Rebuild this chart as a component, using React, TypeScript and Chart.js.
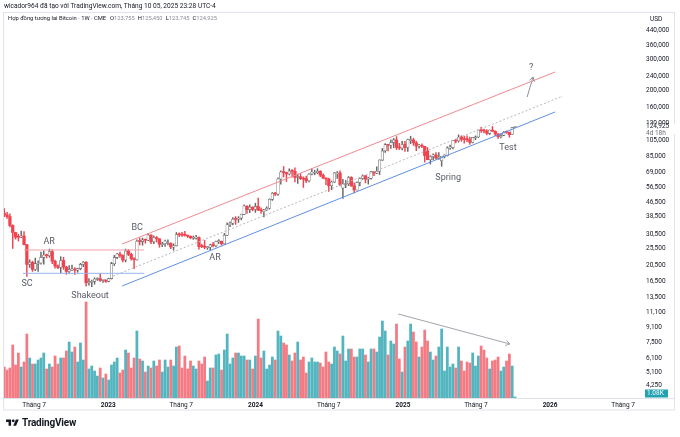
import { useEffect, useRef } from 'react';
import { Chart, registerables } from 'chart.js';

Chart.register(...registerables);

// ---------- data (weekly CME Bitcoin futures, first bar = week of 2022-04-18) ----------
const FIRST_WEEK = '2022-04-18';

const OPEN = [
  40400, 39500, 38600, 34400, 31400, 29900, 29500, 30000, 26800, 20700,
  21300, 19400, 20800, 21100, 22700, 23400, 23200, 24500, 21600, 20300,
  19900, 21800, 20000, 18900, 19300, 19500, 19200, 19600, 20700, 21300,
  16300, 16400, 16600, 17000, 17200, 16800, 16900, 16600, 17200, 20900,
  22700, 23700, 23300, 21900, 24700, 23600, 22300, 22000, 28200, 27900,
  28500, 28400, 30400, 27800, 29400, 28900, 26800, 27100, 27200, 27300,
  25900, 26400, 30800, 30600, 30500, 30300, 29900, 29100, 29200, 29400,
  26200, 26300, 25800, 25900, 26800, 26400, 27900, 28000, 27100, 30300,
  34700, 35400, 37500, 37300, 37900, 39800, 44300, 42300, 43700, 42400,
  44100, 42000, 41200, 42100, 43100, 48400, 52300, 51800, 63100, 69100,
  68600, 67400, 70100, 69700, 64300, 65000, 63400, 63500, 61700, 67200,
  68000, 68300, 69800, 66300, 63900, 63100, 57800, 60600, 67400, 68200,
  56000, 58700, 59200, 64300, 57600, 54700, 60300, 63500, 65800, 62900,
  63600, 69400, 68000, 69800, 80700, 91000, 98700, 97900, 101400, 105000,
  95100, 94400, 98900, 95100, 104000, 105000, 101100, 96900, 97900, 96600,
  91000, 81100, 84600, 86400, 82400, 80000, 85000, 85400, 94600, 95000,
  104200, 103500, 109100, 105800, 105500, 105300, 101600, 108000, 109000, 119400,
  118300, 117800, 114300, 119400, 117600, 113600, 109400, 111400, 116100, 115800,
  112600, 123755,
];
const HIGH = [
  42900, 40800, 40000, 34700, 31500, 30700, 32000, 31800, 26900, 22000,
  21600, 22500, 21700, 24300, 24700, 23700, 25300, 25100, 21900, 20600,
  22900, 22700, 20200, 20400, 20500, 19900, 19700, 21000, 21500, 21500,
  17200, 16900, 17400, 17400, 18400, 17000, 16950, 17300, 21300, 23300,
  23900, 24300, 23500, 25300, 25200, 24000, 22600, 28500, 29200, 29200,
  28800, 31100, 30500, 30100, 29800, 29000, 27600, 28400, 28500, 27400,
  27100, 31400, 31300, 31500, 31900, 30400, 30000, 30000, 30300, 29700,
  26900, 28300, 26100, 27000, 27600, 28100, 28600, 28100, 31000, 35600,
  36100, 38100, 38600, 38600, 39900, 45100, 44400, 45000, 43900, 46000,
  49100, 43300, 42400, 43900, 48700, 52900, 53000, 64100, 70200, 74200,
  68900, 72100, 71400, 72900, 67000, 67600, 64800, 65600, 67700, 72100,
  70800, 72100, 70300, 67400, 64100, 63900, 61400, 68600, 69400, 70100,
  62800, 61900, 65100, 65000, 59900, 60700, 64100, 66500, 66100, 64500,
  69600, 69700, 73900, 81100, 94000, 100100, 99100, 105000, 107000, 109600,
  100400, 102900, 102900, 106100, 110100, 107400, 102900, 99000, 99600, 96600,
  95100, 85400, 87600, 89100, 88900, 84000, 86600, 95900, 98000, 104500,
  105900, 112100, 110800, 110500, 110700, 109000, 108600, 110600, 119600, 123600,
  121100, 120300, 119600, 125100, 118000, 114100, 113600, 117100, 118100, 116500,
  123900, 125450,
];
const LOW = [
  38600, 37700, 33800, 25500, 28800, 28100, 29300, 26700, 17700, 19900,
  18900, 19100, 18900, 20800, 20800, 22500, 22700, 20900, 19700, 19600,
  18600, 19400, 18200, 18500, 19100, 18200, 18700, 19300, 20100, 15600,
  15800, 15500, 16000, 16800, 16600, 16400, 16400, 16500, 17100, 20400,
  22300, 22700, 21400, 21400, 23200, 21900, 19600, 21900, 26700, 26600,
  27300, 28200, 27100, 27100, 27700, 25900, 26100, 26200, 26700, 25400,
  24900, 26300, 29700, 29800, 29900, 29400, 28900, 28700, 28800, 25300,
  25800, 25400, 25200, 24900, 26000, 26000, 27200, 26600, 26900, 30100,
  33900, 34600, 34900, 35800, 37000, 39600, 40300, 40700, 41600, 40800,
  41700, 40300, 38500, 41800, 42600, 47700, 50700, 50900, 59000, 64800,
  61000, 66500, 64500, 60700, 59600, 62600, 56500, 60200, 60800, 66600,
  66600, 67500, 65000, 63400, 58500, 53700, 54800, 60300, 63500, 57600,
  49000, 56300, 57900, 57300, 52600, 54600, 57600, 62700, 59900, 59000,
  62900, 65800, 67500, 66800, 80300, 89300, 91000, 94000, 94900, 92500,
  92600, 92000, 90500, 90500, 100000, 97800, 91300, 94200, 94800, 78600,
  81500, 76600, 81200, 81600, 81300, 74500, 83100, 85100, 92800, 93400,
  101000, 102000, 103100, 100500, 102700, 99000, 100900, 105300, 108100, 115800,
  114900, 112100, 112600, 116900, 110800, 107100, 107600, 110800, 114400, 108700,
  112300, 123745,
];
const CLOSE = [
  39500, 38600, 34400, 31400, 29500, 29500, 30000, 26800, 20700, 21300,
  19400, 20900, 21100, 22700, 23400, 23200, 24500, 21600, 20300, 19900,
  21800, 20000, 18900, 19400, 19500, 19200, 19600, 20700, 21300, 16300,
  16600, 16600, 17100, 17200, 16800, 16900, 16600, 17200, 20900, 22700,
  23700, 23300, 21900, 24700, 23600, 22300, 22000, 28000, 27900, 28500,
  28400, 30400, 27800, 29400, 28900, 26900, 27100, 28100, 27300, 26000,
  26400, 30600, 30500, 30300, 30300, 29900, 29300, 29200, 29400, 26100,
  26100, 25900, 25900, 26700, 26400, 27900, 28000, 27100, 30300, 34700,
  35400, 37300, 37300, 37900, 39800, 44300, 42300, 43700, 42400, 44100,
  42000, 41700, 42100, 43100, 48400, 52300, 51800, 63100, 69100, 68600,
  67400, 70100, 69700, 64300, 65000, 63400, 63000, 61700, 67200, 69100,
  68300, 69800, 66300, 63900, 63100, 57800, 60600, 68300, 68200, 58600,
  59100, 59200, 64300, 57600, 54700, 60300, 63500, 65800, 62900, 63600,
  69400, 68000, 69800, 80700, 91000, 98700, 97900, 101400, 105000, 95100,
  94400, 98900, 95100, 105500, 105000, 101100, 96900, 97900, 96600, 85600,
  81100, 84600, 86400, 82700, 83700, 85000, 85400, 94600, 95000, 104200,
  103500, 109100, 105800, 105500, 105300, 101600, 108500, 109000, 119400, 118300,
  117800, 114300, 119400, 117600, 113600, 109400, 111400, 116100, 115800, 112400,
  123500, 124925,
];
// volume, thousands of contracts
const VOLUME = [
  31, 28, 30, 53, 33, 45, 31, 36, 64, 40,
  34, 34, 38, 40, 45, 29, 34, 31, 42, 34,
  40, 40, 47, 56, 46, 51, 36, 55, 38, 96,
  29, 32, 27, 22, 30, 20, 24, 18, 33, 36,
  40, 25, 28, 48, 45, 30, 40, 67, 39, 37,
  26, 32, 30, 37, 32, 38, 26, 38, 31, 38,
  32, 51, 52, 30, 42, 29, 37, 32, 29, 37,
  34, 41, 17, 30, 30, 43, 44, 28, 48, 64,
  34, 40, 45, 45, 42, 42, 38, 38, 29, 42,
  79, 40, 47, 29, 33, 41, 38, 67, 62, 55,
  53, 43, 37, 45, 56, 38, 41, 25, 36, 40,
  36, 36, 35, 31, 46, 36, 34, 51, 47, 44,
  62, 37, 49, 49, 41, 41, 49, 49, 43, 36,
  49, 49, 46, 61, 77, 67, 43, 57, 54, 74,
  39, 26, 51, 57, 74, 66, 56, 41, 51, 68,
  57, 46, 38, 42, 51, 69, 27, 51, 31, 34,
  30, 51, 37, 27, 36, 35, 45, 32, 42, 52,
  48, 40, 29, 37, 38, 41, 27, 31, 37, 44,
  32, 1.08,
];

const PRICE_TICKS = [
  440000, 360000, 300000, 240000, 200000, 160000, 130000, 105000, 85000, 69000,
  56500, 46500, 38500, 30500, 25500, 20500, 16500, 13500, 11100, 9100,
  7500, 6100, 5100, 4250,
];
const TIME_TICK_DATES = [
  '2022-07-01', '2023-01-01', '2023-07-01', '2024-01-01', '2024-07-01',
  '2025-01-01', '2025-07-01', '2026-01-01', '2026-07-01',
];
const TIME_TICK_LABELS = ['Tháng 7', '2023', 'Tháng 7', '2024', 'Tháng 7', '2025', 'Tháng 7', '2026', 'Tháng 7'];

// drawings on the chart, in data units: [week index, price] (volume arrow: [week index, volume K])
const AR_LEVEL = [[7.0, 24990], [49.6, 24990]];
const SC_LEVEL = [[6.6, 18440], [49.6, 18440]];
const CHANNEL_TOP = [[41.75, 27020], [195.2, 254500]];
const CHANNEL_BOTTOM = [[41.75, 15630], [195.2, 151100]];
const CHANNEL_MID = [[38.6, 17800], [198.0, 186100]];
const TARGET_ARROW = [[185.3, 183700], [187.4, 238500]];
const VOLUME_ARROW = [[139.6, 84], [179.2, 54]];

const LABEL_TEXTS = ['AR', 'SC', 'Shakeout', 'BC', 'AR', 'Spring', 'Test', '?'];
const LABEL_WEEKS = [15.9, 8.1, 30.4, 47.1, 74.7, 157.3, 178.5, 186.7];
const LABEL_PRICES = [27730, 16040, 13720, 33290, 22520, 63880, 94470, 268200];

const HEADER_1 = 'wicador964 đã tạo với TradingView.com, Tháng 10 05, 2025 23:28 UTC-4';
const SYMBOL = 'Hợp đồng tương lai Bitcoin · 1W · CME';
const TIME_LEFT = '4d 18h';

// axis ranges
const X_MIN = -0.45;
const X_MAX = 226.0;
const Y_MIN = 3628;
const Y_MAX = 469700;
const VOLUME_AXIS_MAX = 373;

// ---------- styles ----------
const FONT = 'Roboto, "Liberation Sans", Arial, sans-serif';
const RED = '#F0434F';
const UP_LINE = '#666666';
const VOL_RED = '#F47A83';
const VOL_TEAL = '#52B5BF';
const TEXT = '#131722';
const FRAME = '#E0E3EB';

const N = OPEN.length;
const IDX = Array.from({ length: N }, (_, i) => i);
const isUp = (i: number) => CLOSE[i] >= OPEN[i];
const weekOf = (d: string) => (Date.parse(d) - Date.parse(FIRST_WEEK)) / 604800000;
const TIME_TICK_POS = TIME_TICK_DATES.map(weekOf);
const fmt = (v: number) => Math.round(v).toLocaleString('en-US');

function lineDs(pts: number[][], color: string, axis: string, dash: number[] = []) {
  return {
    type: 'line' as const,
    data: pts.map(([x, y]) => ({ x, y })),
    yAxisID: axis,
    borderColor: color,
    borderWidth: 1,
    borderDash: dash,
    pointRadius: 0,
    pointHoverRadius: 0,
    fill: false,
    tension: 0,
    order: 0,
  };
}

function arrowHead(ctx: CanvasRenderingContext2D, x1: number, y1: number, x2: number, y2: number, len: number) {
  const a = Math.atan2(y2 - y1, x2 - x1);
  ctx.beginPath();
  ctx.moveTo(x2 - len * Math.cos(a - 0.55), y2 - len * Math.sin(a - 0.55));
  ctx.lineTo(x2, y2);
  ctx.lineTo(x2 - len * Math.cos(a + 0.55), y2 - len * Math.sin(a + 0.55));
  ctx.stroke();
}

const overlay = {
  id: 'overlay',
  afterDatasetsDraw(chart: any) {
    const { ctx, scales } = chart;
    const x = scales.x, y = scales.y, yv = scales.yv;
    ctx.save();
    ctx.lineWidth = 1;
    ctx.strokeStyle = '#8E9099';
    let p = TARGET_ARROW.map(([a, b]) => [x.getPixelForValue(a), y.getPixelForValue(b)]);
    arrowHead(ctx, p[0][0], p[0][1], p[1][0], p[1][1], 5);
    ctx.strokeStyle = '#A3A5AD';
    p = VOLUME_ARROW.map(([a, b]) => [x.getPixelForValue(a), yv.getPixelForValue(b)]);
    arrowHead(ctx, p[0][0], p[0][1], p[1][0], p[1][1], 5);
    ctx.font = `9px ${FONT}`;
    ctx.fillStyle = '#575B66';
    ctx.textAlign = 'center';
    ctx.textBaseline = 'middle';
    LABEL_TEXTS.forEach((t, i) => {
      ctx.fillText(t, x.getPixelForValue(LABEL_WEEKS[i]), y.getPixelForValue(LABEL_PRICES[i]));
    });
    ctx.restore();
  },
  afterDraw(chart: any) {
    const { ctx, chartArea, scales, width } = chart;
    const y = scales.y, yv = scales.yv;
    ctx.save();
    ctx.strokeStyle = FRAME;
    ctx.lineWidth = 1;
    const left = chartArea.left + 0.5;
    const right = width - 5.5;
    ctx.strokeRect(left, 12.5, right - left, chartArea.bottom + 12 - 12.5);
    ctx.beginPath();
    ctx.moveTo(left, chartArea.bottom + 0.5);
    ctx.lineTo(right, chartArea.bottom + 0.5);
    ctx.stroke();
    const lx = chartArea.right + 4;
    ctx.font = `6.5px ${FONT}`;
    ctx.textAlign = 'left';
    ctx.textBaseline = 'middle';
    ctx.fillStyle = TEXT;
    ctx.fillText('USD', lx + 4, 19);
    const last = CLOSE[N - 1];
    const py = y.getPixelForValue(last);
    ctx.fillStyle = '#ffffff';
    ctx.fillRect(chartArea.right + 1, py - 2.5, 32, 10);
    ctx.fillStyle = TEXT;
    ctx.fillText(fmt(last), lx, py);
    ctx.fillStyle = '#6A6D78';
    ctx.fillText(TIME_LEFT, lx, py + 6.5);
    const vol = VOLUME[N - 1];
    const vy = Math.min(yv.getPixelForValue(vol), chartArea.bottom - 4.5);
    ctx.fillStyle = '#22A3AF';
    ctx.fillRect(chartArea.right + 3, vy - 4, 23, 8);
    ctx.fillStyle = '#ffffff';
    ctx.fillText(vol.toFixed(2) + 'K', lx + 1, vy + 0.3);
    ctx.restore();
  },
};

export default function App() {
  const ref = useRef<HTMLCanvasElement | null>(null);
  useEffect(() => {
    const config: any = {
      type: 'bar',
      data: {
        datasets: [
          lineDs(AR_LEVEL, '#F3A2A9', 'y'),
          lineDs(SC_LEVEL, '#98B4EE', 'y'),
          lineDs(CHANNEL_TOP, '#F08992', 'y'),
          lineDs(CHANNEL_BOTTOM, '#5F8FE6', 'y'),
          lineDs(CHANNEL_MID, '#B5B7BD', 'y', [2, 2]),
          lineDs(TARGET_ARROW, '#8E9099', 'y'),
          lineDs(VOLUME_ARROW, '#A3A5AD', 'yv'),
          {
            type: 'bar',
            label: 'body',
            yAxisID: 'y',
            grouped: false,
            order: 1,
            data: IDX.map((i) => ({ x: i, y: [Math.min(OPEN[i], CLOSE[i]), Math.max(OPEN[i], CLOSE[i])] })),
            backgroundColor: IDX.map((i) => (isUp(i) ? '#ffffff' : RED)),
            borderColor: IDX.map((i) => (isUp(i) ? UP_LINE : RED)),
            borderWidth: IDX.map((i) => (isUp(i) ? 0.6 : 0)),
            borderSkipped: false,
            barThickness: 2.6,
            minBarLength: 1,
          },
          {
            type: 'bar',
            label: 'wick',
            yAxisID: 'y',
            grouped: false,
            order: 2,
            data: IDX.map((i) => ({ x: i, y: [LOW[i], HIGH[i]] })),
            backgroundColor: IDX.map((i) => (isUp(i) ? UP_LINE : RED)),
            borderWidth: 0,
            barThickness: 0.8,
          },
          {
            type: 'bar',
            label: 'volume',
            yAxisID: 'yv',
            grouped: false,
            order: 5,
            data: IDX.map((i) => ({ x: i, y: VOLUME[i] })),
            backgroundColor: IDX.map((i) => (isUp(i) ? VOL_TEAL : VOL_RED)),
            borderWidth: 0,
            barThickness: 2.1,
          },
        ],
      },
      options: {
        responsive: false,
        animation: false,
        events: [],
        layout: { padding: { left: 3, top: 25, right: 0, bottom: 0 } },
        plugins: { legend: { display: false }, tooltip: { enabled: false } },
        scales: {
          x: {
            type: 'linear',
            min: X_MIN,
            max: X_MAX,
            offset: false,
            grid: { display: false, drawTicks: false },
            border: { display: false },
            afterBuildTicks: (s: any) => {
              s.ticks = TIME_TICK_POS.map((v) => ({ value: v }));
            },
            afterFit: (s: any) => {
              s.height = 39;
            },
            ticks: {
              autoSkip: false,
              maxRotation: 0,
              padding: 3,
              color: TEXT,
              callback: (_v: any, i: number) => TIME_TICK_LABELS[i],
              font: (c: any) => ({
                family: FONT,
                size: 6.5,
                weight: /^\d/.test(TIME_TICK_LABELS[c.index] || '') ? 'bold' : 'normal',
              }),
            },
          },
          y: {
            type: 'logarithmic',
            position: 'right',
            min: Y_MIN,
            max: Y_MAX,
            grid: { display: false, drawTicks: false },
            border: { display: false },
            afterBuildTicks: (s: any) => {
              s.ticks = PRICE_TICKS.map((v) => ({ value: v }));
            },
            afterFit: (s: any) => {
              s.width = 38;
            },
            ticks: {
              autoSkip: false,
              padding: 4,
              color: TEXT,
              font: { family: FONT, size: 6.5 },
              callback: (v: any) => fmt(Number(v)),
            },
          },
          yv: { type: 'linear', display: false, min: 0, max: VOLUME_AXIS_MAX },
        },
      },
      plugins: [overlay],
    };
    const chart = new Chart(ref.current as HTMLCanvasElement, config);
    return () => chart.destroy();
  }, []);

  return (
    <div style={{ position: 'absolute', left: 0, top: 0, width: 680, height: 437, background: '#ffffff', overflow: 'hidden', fontFamily: FONT }}>
      <canvas ref={ref} width={680} height={437} style={{ position: 'absolute', left: 0, top: 0 }} />
      <div style={{ position: 'absolute', left: 4, top: 1.5, fontSize: 6.6, lineHeight: '9px', color: TEXT, whiteSpace: 'nowrap' }}>
        {HEADER_1}
      </div>
      <div style={{ position: 'absolute', left: 8, top: 14, fontSize: 5.8, lineHeight: '9px', color: TEXT, whiteSpace: 'nowrap' }}>
        {SYMBOL}
        <span style={{ marginLeft: 4 }}>O</span><span style={{ color: '#8A8D96' }}>{fmt(OPEN[N - 1])}</span>
        <span style={{ marginLeft: 3 }}>H</span><span style={{ color: '#8A8D96' }}>{fmt(HIGH[N - 1])}</span>
        <span style={{ marginLeft: 3 }}>L</span><span style={{ color: '#8A8D96' }}>{fmt(LOW[N - 1])}</span>
        <span style={{ marginLeft: 3 }}>C</span><span style={{ color: '#8A8D96' }}>{fmt(CLOSE[N - 1])}</span>
      </div>
      <div style={{ position: 'absolute', left: 6, top: 417, display: 'flex', alignItems: 'center', gap: 3 }}>
        <svg width={13} height={10} viewBox="0 0 36 28">
          <path d="M14 22H7V11H0V4h14v18zM28 22h-8l7.5-18h8L28 22z" fill="#131722" />
          <circle cx={20} cy={8} r={4} fill="#131722" />
        </svg>
        <span style={{ fontSize: 10, fontWeight: 700, color: TEXT, letterSpacing: -0.2 }}>TradingView</span>
      </div>
    </div>
  );
}
